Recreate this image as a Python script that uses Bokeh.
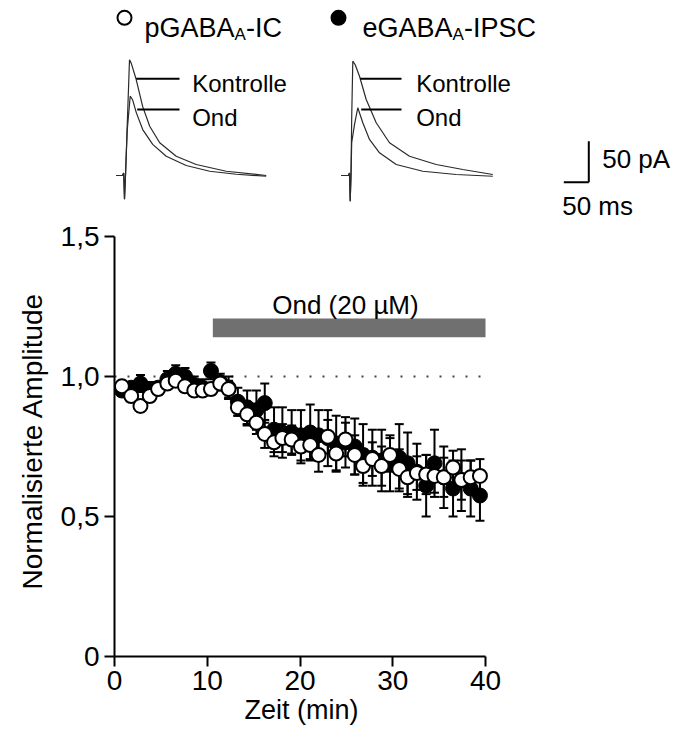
from bokeh.plotting import figure
from bokeh.models import Range1d, FixedTicker, Title
from bokeh.core.properties import value
from bokeh.embed import file_html
from bokeh.resources import INLINE

FONT = "Liberation Sans"

# ---------------- main time course data ----------------
time_min = [0.8, 1.8, 2.8, 3.8, 4.7, 5.7, 6.6, 7.6, 8.6, 9.5, 10.4, 11.4, 12.3, 13.3,
            14.3, 15.3, 16.2, 17.2, 18.1, 19.1, 20.1, 21.1, 22.0, 23.0, 23.9, 24.9,
            25.9, 26.8, 27.8, 28.8, 29.7, 30.7, 31.6, 32.6, 33.6, 34.5, 35.5, 36.5,
            37.4, 38.4, 39.4]

pgaba_ic = [0.965, 0.93, 0.895, 0.93, 0.955, 0.975, 0.985, 0.965, 0.95, 0.95, 0.955,
            0.975, 0.955, 0.89, 0.865, 0.835, 0.795, 0.765, 0.78, 0.775, 0.75, 0.755,
            0.72, 0.785, 0.725, 0.775, 0.72, 0.68, 0.705, 0.68, 0.72, 0.67, 0.64,
            0.655, 0.65, 0.645, 0.64, 0.675, 0.63, 0.64, 0.645]
pgaba_ic_err = [0.02, 0.02, 0.02, 0.02, 0.02, 0.02, 0.02, 0.02, 0.02, 0.02, 0.02, 0.02,
                0.03, 0.03, 0.04, 0.04, 0.05, 0.05, 0.05, 0.05, 0.06, 0.05, 0.06, 0.06,
                0.06, 0.06, 0.07, 0.06, 0.06, 0.07, 0.06, 0.07, 0.07, 0.06, 0.07, 0.06,
                0.07, 0.06, 0.07, 0.06, 0.06]

egaba_ipsc = [0.95, 0.96, 0.975, 0.95, 0.96, 0.99, 1.01, 1.0, 0.97, 0.96, 1.02, 0.98,
              0.96, 0.91, 0.89, 0.88, 0.905, 0.81, 0.80, 0.80, 0.79, 0.80, 0.79, 0.78,
              0.76, 0.765, 0.75, 0.72, 0.71, 0.70, 0.69, 0.71, 0.69, 0.66, 0.61, 0.69,
              0.64, 0.60, 0.63, 0.60, 0.575]
egaba_ipsc_err = [0.02, 0.02, 0.03, 0.03, 0.02, 0.03, 0.03, 0.03, 0.03, 0.03, 0.03, 0.03,
                  0.04, 0.05, 0.06, 0.07, 0.07, 0.08, 0.09, 0.08, 0.09, 0.10, 0.09, 0.10,
                  0.10, 0.09, 0.10, 0.11, 0.10, 0.11, 0.10, 0.12, 0.11, 0.10, 0.11, 0.12,
                  0.11, 0.10, 0.11, 0.10, 0.09]

x_ticks = [0, 10, 20, 30, 40]
x_tick_labels = ["0", "10", "20", "30", "40"]
y_ticks = [0, 0.5, 1.0, 1.5]
y_tick_labels = ["0", "0,5", "1,0", "1,5"]
x_title = "Zeit (min)"
y_title = "Normalisierte Amplitude"

drug_label = "Ond (20 µM)"
drug_start, drug_end = 10.6, 40.0
drug_bar_lo, drug_bar_hi = 1.14, 1.207
baseline_level = 1.0

# ---------------- example current traces (ms, pA) ----------------
tr1_ctrl_t = [0, 12, 15, 16.6, 18.6, 22, 26.6, 30, 40, 53, 67, 87, 120, 160, 220, 300]
tr1_ctrl_i = [0, 0, 3, -29, 0, 60, 141, 137, 117, 84, 60, 40, 23.5, 13.4, 5.2, 0]
tr1_ond_t = [0, 12, 15, 16.6, 18.6, 22, 28, 33, 40, 53, 73, 100, 140, 187, 240, 300]
tr1_ond_i = [0, 0, 3, -29, 0, 55, 96.7, 92, 77, 56, 38, 23.5, 12.2, 5.2, 1.5, -0.9]

tr2_ctrl_t = [0, 14.6, 16.5, 18, 19.6, 21, 23.2, 28, 36.6, 50, 70, 96.6, 136.6, 190, 243.2, 303.2]
tr2_ctrl_i = [0, 0, 3, -31.3, 0, 70, 139.4, 135, 121, 92.7, 64.3, 39.9, 23.5, 13.4, 7.3, 1.2]
tr2_ond_t = [0, 14.6, 16.5, 18, 19.6, 21, 26.6, 33.2, 43.2, 56.6, 76.6, 110, 163.2, 230, 303.2]
tr2_ond_i = [0, 0, 3, -31.3, 0, 40, 62, 82.6, 64.3, 44, 27.7, 13.4, 5.2, 1.2, -0.9]

trace_labels = ["Kontrolle", "Ond"]
scale_ms, scale_pA = 50, 50

# ================= single figure =================
p = figure(width=672, height=740, x_range=Range1d(0, 60.16), y_range=Range1d(0, 2.343),
           output_backend="svg", toolbar_location=None,
           min_border_left=114, min_border_right=0, min_border_top=0,
           min_border_bottom=84, outline_line_color=None)
p.grid.visible = False
# secondary ranges for the example traces (ms / pA) in the upper part
p.extra_x_ranges = {"ms": Range1d(0, 1116)}
p.extra_y_ranges = {"pA": Range1d(-586.6, 213.4)}
TR = dict(x_range_name="ms", y_range_name="pA")

# ---- traces ----
TRACE_COLOR = "#2a2a2a"
T1, T2 = 3.4, 453.4
for off, tt, ii in ((T1, tr1_ctrl_t, tr1_ctrl_i), (T1, tr1_ond_t, tr1_ond_i),
                    (T2, tr2_ctrl_t, tr2_ctrl_i), (T2, tr2_ond_t, tr2_ond_i)):
    p.line([t + off for t in tt], ii, line_color=TRACE_COLOR, line_width=1.2, **TR)

for off, (x0, x1) in ((T1, (40, 126.6)), (T2, (38, 120.6))):
    p.segment(x0=[x0 + off, x0 + off + 2], y0=[118, 80.5], x1=[x1 + off, x1 + off],
              y1=[118, 80.5], line_color="black", line_width=2, **TR)
for xlab in (T1 + 152, T2 + 150):
    p.text(x=[xlab, xlab], y=[112.2, 70.7], text=trace_labels,
           text_font=value(FONT), text_font_size="24px", text_baseline="alphabetic",
           text_align="left", text_color="black", **TR)

# ---- scale bar ----
SBX, SBY = 948.6, -8.2
p.segment(x0=[SBX, SBX - scale_ms], y0=[SBY, SBY], x1=[SBX, SBX], y1=[SBY + scale_pA, SBY],
          line_color="black", line_width=2, **TR)
p.text(x=[975.4], y=[20.7], text=[f"{scale_pA} pA"], text_font=value(FONT),
       text_font_size="26px", text_baseline="alphabetic", text_align="left", **TR)
p.text(x=[895.4], y=[-36.6], text=[f"{scale_ms} ms"], text_font=value(FONT),
       text_font_size="26px", text_baseline="alphabetic", text_align="left", **TR)

# ---- legend (with subscript A) ----
W = {'p': .556, 'G': .778, 'A': .667, 'B': .667, 'e': .556, '-': .333, 'I': .278,
     'C': .722, 'P': .667, 'S': .667}
LFS, SFS = 27, 17
def wid(s, fs):
    return sum(W[c] for c in s) * fs * 2.0  # px -> ms (2 ms per px)

legend_entries = [("pGABA", "-IC", 20, 60, "white"), ("eGABA", "-IPSC", 448, 496, "black")]
for main_txt, tail_txt, cx, tx, fill in legend_entries:
    p.scatter([cx], [192.3], marker="circle", size=14, fill_color=fill,
              line_color="black", line_width=2, **TR)
    p.text(x=[tx], y=[180.1], text=[main_txt], text_font=value(FONT),
           text_font_size=f"{LFS}px", text_baseline="alphabetic", **TR)
    sx = tx + wid(main_txt, LFS)
    p.text(x=[sx], y=[172.0], text=["A"], text_font=value(FONT),
           text_font_size=f"{SFS}px", text_baseline="alphabetic", **TR)
    p.text(x=[sx + wid("A", SFS)], y=[180.1], text=[tail_txt], text_font=value(FONT),
           text_font_size=f"{LFS}px", text_baseline="alphabetic", **TR)

# ---- drug bar + label ----
p.quad(left=[drug_start], right=[drug_end], bottom=[drug_bar_lo], top=[drug_bar_hi],
       fill_color="#707070", line_color=None)
p.text(x=[24.9], y=[1.254], text=[drug_label],
       text_font=value(FONT), text_font_size="26px", text_align="center",
       text_baseline="alphabetic")

# ---- dotted reference line ----
p.line([0, 40], [baseline_level, baseline_level], line_color="#444444",
       line_width=2, line_dash="2 11")

def errorbars(x, y, e):
    lo = [a - b for a, b in zip(y, e)]
    hi = [a + b for a, b in zip(y, e)]
    p.segment(x0=x, y0=lo, x1=x, y1=hi, line_color="black", line_width=2)
    p.scatter(x + x, lo + hi, marker="dash", size=9, line_color="black", line_width=2)

errorbars(time_min, egaba_ipsc, egaba_ipsc_err)
p.scatter(time_min, egaba_ipsc, marker="circle", size=15, fill_color="black",
          line_color="black", line_width=1)
errorbars(time_min, pgaba_ic, pgaba_ic_err)
p.scatter(time_min, pgaba_ic, marker="circle", size=14, fill_color="white",
          line_color="black", line_width=2)

# ---- axes ----
for ax in (p.xaxis[0], p.yaxis[0]):
    ax.axis_line_width = 2
    ax.axis_line_color = "black"
    ax.major_tick_line_width = 2
    ax.major_tick_line_color = "black"
    ax.major_tick_out = 10
    ax.major_tick_in = 0
    ax.minor_tick_line_color = None
    ax.major_label_text_font = FONT
    ax.major_label_text_font_size = "28px"
    ax.major_label_text_color = "black"

p.xaxis.bounds = (0, 40)
p.xaxis.ticker = FixedTicker(ticks=x_ticks)
p.xaxis.major_label_overrides = {t: l for t, l in zip(x_ticks, x_tick_labels)}
p.xaxis.major_label_standoff = 4
p.yaxis.bounds = (0, 1.5)
p.yaxis.ticker = FixedTicker(ticks=y_ticks)
p.yaxis.major_label_standoff = 5
p.yaxis.major_label_overrides = {t: l for t, l in zip(y_ticks, y_tick_labels)}

# axis titles as side titles, shifted so they are centred on the 0-40 / 0-1.5 spans
p.add_layout(Title(text=x_title, align="left", offset=130, standoff=0,
                   text_font=FONT, text_font_size="27px", text_font_style="normal",
                   text_color="black"), "below")
p.add_layout(Title(text=y_title, align="left", offset=67, standoff=18,
                   vertical_align="middle",
                   text_font=FONT, text_font_size="28px", text_font_style="normal",
                   text_color="black"), "left")

open("out.html", "w").write(file_html(p, INLINE))
